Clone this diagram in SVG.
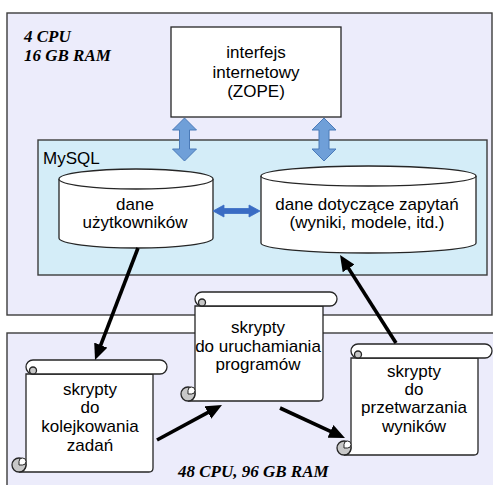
<svg xmlns="http://www.w3.org/2000/svg" width="493" height="485" viewBox="0 0 493 485">
<style>
.frame{fill:#ececfb;stroke:#3c3c3c;stroke-width:1.4}
.mysql{fill:#d4edf8;stroke:#3c3c3c;stroke-width:1.4}
.box{fill:#ffffff;stroke:#262626;stroke-width:1.3}
.t{font-family:"Liberation Sans",Arial,sans-serif;font-size:17px;fill:#000;text-anchor:middle}
.hw{font-family:"Liberation Serif","Times New Roman",serif;font-size:17px;font-weight:bold;font-style:italic;fill:#000}
.curl{fill:#c8c8c8;stroke:#262626;stroke-width:1.3}
.blue{fill:#6f9fd8;stroke:#4a7ab8;stroke-width:1}
.blue2{fill:#3a6cc4;stroke:#3a6cc4;stroke-width:0.8}
.conn{stroke:#000;stroke-width:3.6;fill:none;marker-end:url(#ah)}
</style>
<defs>
<marker id="ah" markerUnits="userSpaceOnUse" markerWidth="16" markerHeight="14" refX="6" refY="7" orient="auto" viewBox="0 0 16 14">
<path d="M0,0 L16,7 L0,14 Z" fill="#000"/>
</marker>
</defs>
<rect width="493" height="485" fill="#ffffff"/>
<g id="host-top">
<rect class="frame" x="7" y="13" width="485" height="302"/>
<text class="hw" x="24" y="42">4 CPU</text>
<text class="hw" x="24" y="61">16 GB RAM</text>
</g>
<g id="host-bottom">
<rect class="frame" x="7" y="333" width="500" height="170"/>
<text class="hw" x="178" y="477">48 CPU, 96 GB RAM</text>
</g>
<g id="zope">
<rect class="box" x="171" y="27" width="170" height="90"/>
<text class="t" x="256" y="58">interfejs</text>
<text class="t" x="256" y="77.5">internetowy</text>
<text class="t" x="256" y="97">(ZOPE)</text>
</g>
<g id="mysql">
<rect class="mysql" x="38" y="140" width="449" height="135"/>
<text class="t" x="43" y="164" style="text-anchor:start">MySQL</text>
</g>
<g id="db-users">
<path class="box" d="M59,179 A77,10 0 0 1 213,179 V238 A77,10 0 0 1 59,238 Z"/>
<path class="box" d="M59,179 A77,10 0 0 0 213,179" fill="none"/>
<text class="t" x="135" y="210">dane</text>
<text class="t" x="135" y="228">użytkowników</text>
</g>
<g id="db-queries">
<path class="box" d="M261,176 A107.5,10 0 0 1 476,176 V243 A107.5,10 0 0 1 261,243 Z"/>
<path class="box" d="M261,176 A107.5,10 0 0 0 476,176" fill="none"/>
<text class="t" x="367" y="210">dane dotyczące zapytań</text>
<text class="t" x="367" y="228">(wyniki, modele, itd.)</text>
</g>
<g id="scroll-run">
<path class="box" d="M195,306 V394 A7,7 0 0 1 188,401 H319 Q323,401 323,397 V306 Z"/>
<circle class="curl" cx="188" cy="394" r="7"/>
<path d="M191.5,394 A3.5,3.5 0 1 0 188,390.5 L188,394 Z" fill="#fff" stroke="#262626" stroke-width="1"/>
<path class="box" d="M202,292 H330 A7,7 0 0 1 330,306 H202 A7,7 0 0 1 202,292 Z"/>
<circle class="curl" cx="202" cy="302.5" r="3.5"/>
<text class="t" x="258" y="333">skrypty</text>
<text class="t" x="258" y="352">do uruchamiania</text>
<text class="t" x="258" y="370">programów</text>
</g>
<g id="scroll-queue">
<path class="box" d="M26,374 V465 A7,7 0 0 1 19,472 H149 Q153,472 153,468 V374 Z"/>
<circle class="curl" cx="19" cy="465" r="7"/>
<path d="M22.5,465 A3.5,3.5 0 1 0 19,461.5 L19,465 Z" fill="#fff" stroke="#262626" stroke-width="1"/>
<path class="box" d="M33,360 H160 A7,7 0 0 1 160,374 H33 A7,7 0 0 1 33,360 Z"/>
<circle class="curl" cx="33" cy="370.5" r="3.5"/>
<text class="t" x="90" y="395">skrypty</text>
<text class="t" x="90" y="413">do</text>
<text class="t" x="90" y="432">kolejkowania</text>
<text class="t" x="90" y="451">zadań</text>
</g>
<g id="scroll-process">
<path class="box" d="M351,358 V448 A7,7 0 0 1 344,455 H474 Q478,455 478,451 V358 Z"/>
<circle class="curl" cx="344" cy="448" r="7"/>
<path d="M347.5,448 A3.5,3.5 0 1 0 344,444.5 L344,448 Z" fill="#fff" stroke="#262626" stroke-width="1"/>
<path class="box" d="M358,344 H485 A7,7 0 0 1 485,358 H358 A7,7 0 0 1 358,344 Z"/>
<circle class="curl" cx="358" cy="354.5" r="3.5"/>
<text class="t" x="414" y="377">skrypty</text>
<text class="t" x="414" y="395">do</text>
<text class="t" x="414" y="413">przetwarzania</text>
<text class="t" x="414" y="432">wyników</text>
</g>
<g id="connectors">
<polygon class="blue" points="184.5,118 196.5,130 189.5,130 189.5,149 196.5,149 184.5,161 172.5,149 179.5,149 179.5,130 172.5,130"/>
<polygon class="blue" points="324,118 336,130 329,130 329,149 336,149 324,161 312,149 319,149 319,130 312,130"/>
<polygon class="blue2" points="213,211 224,205 224,208.5 249,208.5 249,205 260,211 249,217 249,213.5 224,213.5 224,217"/>
<line class="conn" x1="138" y1="248" x2="98.6" y2="350.7"/>
<line class="conn" x1="157" y1="440" x2="213.2" y2="409.7"/>
<line class="conn" x1="280" y1="408" x2="335.9" y2="433.8"/>
<line class="conn" x1="396" y1="343" x2="345.4" y2="263.4"/>
</g>
</svg>
